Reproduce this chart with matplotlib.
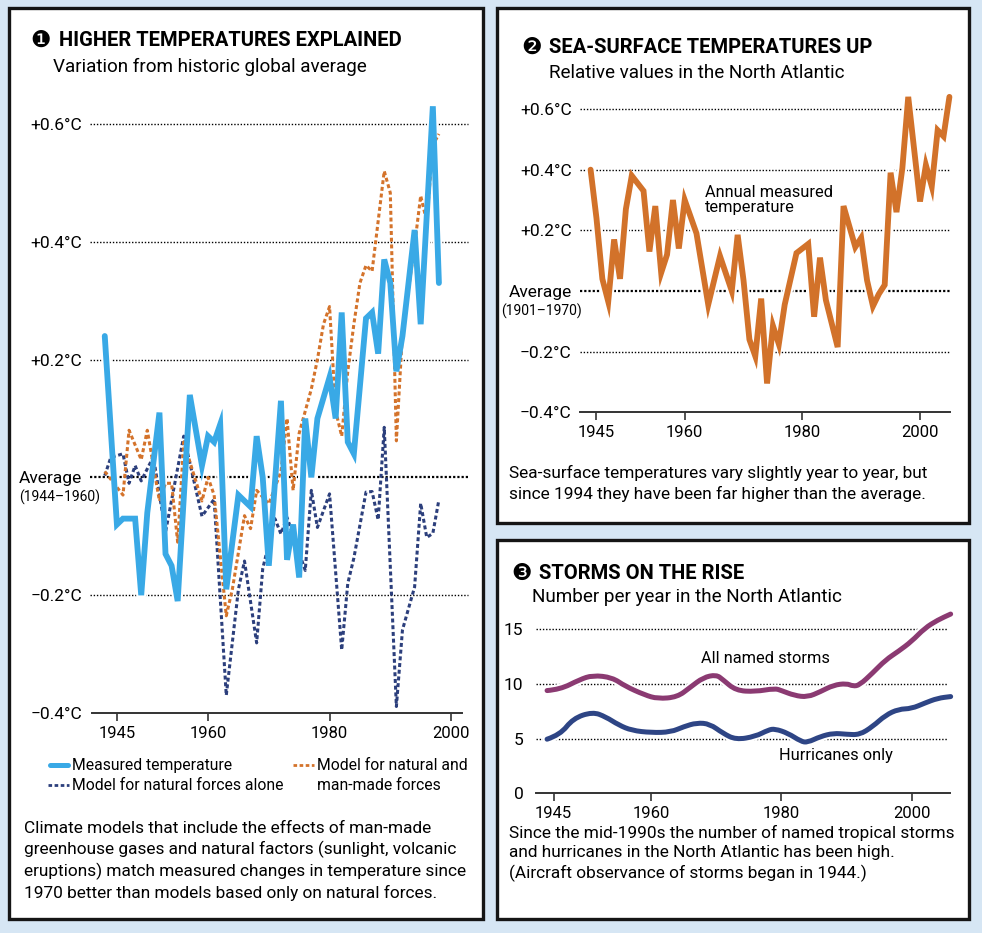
import matplotlib
matplotlib.use("Agg")
import matplotlib.pyplot as plt
from matplotlib.patches import Rectangle, PathPatch
from matplotlib.lines import Line2D
from matplotlib.path import Path

FONT = ['Roboto', 'DejaVu Sans']
plt.rcParams['font.family'] = FONT

# ---- panel 1: global temperature vs models ----
meas_years = [1943, 1945, 1946, 1948, 1949, 1950, 1952, 1953, 1954, 1955, 1957,
              1959, 1960, 1961, 1962, 1963, 1965, 1967, 1968, 1969, 1970, 1972,
              1973, 1974, 1975, 1976, 1977, 1978, 1980, 1981, 1982, 1983, 1984,
              1986, 1987, 1988, 1989, 1990, 1991, 1992, 1994, 1995, 1997, 1998]
meas_temp = [0.24, -0.08, -0.07, -0.07, -0.20, -0.06, 0.11, -0.13, -0.15, -0.21, 0.14,
             0.02, 0.07, 0.06, 0.09, -0.19, -0.03, -0.05, 0.07, 0.00, -0.15, 0.13,
             -0.14, -0.08, -0.17, 0.10, 0.00, 0.10, 0.17, 0.10, 0.28, 0.06, 0.04,
             0.27, 0.28, 0.21, 0.37, 0.33, 0.18, 0.24, 0.42, 0.26, 0.63, 0.33]

both_years = [1943, 1946, 1947, 1949, 1950, 1952, 1953, 1954, 1955, 1956, 1959,
              1960, 1961, 1963, 1964, 1966, 1967, 1968, 1970, 1972, 1973, 1974,
              1975, 1977, 1978, 1979, 1980, 1981, 1982, 1983, 1984, 1985, 1986,
              1987, 1989, 1990, 1991, 1992, 1994, 1995, 1996, 1997, 1998]
both_temp = [0.01, -0.03, 0.08, 0.03, 0.08, -0.04, -0.01, -0.01, -0.11, 0.06, -0.04,
             0.00, -0.03, -0.235, -0.19, -0.065, -0.087, -0.022, -0.045, 0.01, 0.10, -0.022,
             0.075, 0.15, 0.20, 0.26, 0.29, 0.113, 0.07, 0.18, 0.26, 0.33, 0.36,
             0.35, 0.52, 0.483, 0.062, 0.245, 0.394, 0.478, 0.434, 0.564, 0.583]

nat_years = [1943, 1944, 1946, 1947, 1948, 1949, 1951, 1953, 1956, 1959, 1961,
             1963, 1965, 1966, 1968, 1969, 1971, 1972, 1973, 1976, 1977, 1978,
             1980, 1982, 1983, 1984, 1986, 1987, 1988, 1989, 1991, 1992, 1994,
             1995, 1996, 1997, 1998]
nat_temp = [0.003, 0.034, 0.04, -0.01, 0.02, -0.006, 0.035, -0.093, 0.07, -0.066, -0.037,
            -0.37, -0.19, -0.142, -0.281, -0.155, -0.07, -0.096, -0.068, -0.158, -0.022, -0.085,
            -0.028, -0.293, -0.18, -0.137, -0.025, -0.024, -0.072, 0.085, -0.389, -0.259, -0.186,
            -0.044, -0.102, -0.095, -0.038]

# ---- panel 2: North Atlantic sea-surface temperature ----
sst_years = [1944, 1945, 1946, 1947, 1948, 1949, 1950, 1951, 1953, 1954, 1955,
             1956, 1957, 1958, 1959, 1960, 1961, 1962, 1964, 1966, 1968, 1969,
             1970, 1971, 1972, 1973, 1974, 1975, 1976, 1977, 1979, 1981, 1982,
             1983, 1984, 1986, 1987, 1989, 1990, 1991, 1992, 1993, 1994, 1995,
             1996, 1997, 1998, 2000, 2001, 2002, 2003, 2004, 2005]
sst_temp = [0.40, 0.24, 0.04, -0.035, 0.17, 0.04, 0.27, 0.38, 0.33, 0.13, 0.28,
            0.06, 0.12, 0.30, 0.14, 0.30, 0.245, 0.19, -0.045, 0.115, 0.0, 0.185,
            0.035, -0.16, -0.215, -0.025, -0.305, -0.115, -0.175, -0.045, 0.125, 0.155, -0.085,
            0.11, -0.03, -0.185, 0.28, 0.145, 0.175, 0.035, -0.05, -0.01, 0.02, 0.39,
            0.26, 0.405, 0.64, 0.295, 0.415, 0.345, 0.53, 0.51, 0.64]

# ---- panel 3: storms per year ----
storm_years = [1944, 1946, 1949, 1951, 1954, 1956, 1959, 1961, 1964, 1966, 1968,
               1970, 1971, 1973, 1976, 1979, 1980, 1982, 1984, 1986, 1988, 1990,
               1991, 1992, 1994, 1996, 1998, 2000, 2002, 2004, 2006]
storms = [9.4, 9.5, 10.4, 10.8, 10.6, 9.8, 9.0, 8.65, 8.8, 9.7, 10.6,
          10.85, 10.4, 9.4, 9.3, 9.6, 9.4, 8.95, 8.8, 9.3, 9.9, 10.05,
          9.8, 9.9, 11.0, 12.2, 13.0, 13.9, 15.1, 15.85, 16.4]
hurr_years = [1944, 1946, 1948, 1951, 1953, 1955, 1957, 1960, 1963, 1965, 1967,
              1969, 1971, 1973, 1976, 1978, 1979, 1981, 1983, 1984, 1986, 1988,
              1990, 1992, 1994, 1996, 1998, 2000, 2002, 2004, 2006]
hurricanes = [4.95, 5.35, 6.85, 7.45, 7.0, 6.25, 5.75, 5.55, 5.6, 6.1, 6.45,
              6.35, 5.5, 4.9, 5.2, 5.8, 5.9, 5.5, 4.75, 4.65, 5.2, 5.5,
              5.4, 5.35, 6.1, 7.15, 7.7, 7.75, 8.25, 8.7, 8.85]

BG = '#d6e6f4'
C_MEAS = '#39a9e6'
C_BOTH = '#d4732b'
C_NAT = '#2c3f7c'
C_SST = '#d2722a'
C_STORM = '#8b3a72'
C_HURR = '#2e4585'

W, H = 982, 933
fig = plt.figure(figsize=(W / 100, H / 100), dpi=100)
fig.patch.set_facecolor(BG)


def rect(l, t, r, b):
    return [l / W, 1 - b / H, (r - l) / W, (b - t) / H]


def ftext(x, y, s, **kw):
    kw.setdefault('va', 'baseline')
    return fig.text(x / W, 1 - y / H, s, **kw)


def panel(l, t, r, b):
    fig.add_artist(Rectangle((l / W, 1 - b / H), (r - l) / W, (b - t) / H,
                             transform=fig.transFigure, facecolor='white',
                             edgecolor='#151515', lw=2.4, zorder=0))


def title(xn, xt, y, num, s):
    ftext(xn, y + 1, num, fontsize=16.5, family='DejaVu Sans')
    ftext(xt, y, s, fontsize=14.5, fontweight='bold')


def style_axes(ax, xt, yt, ylabels, ypad):
    for s in ['top', 'right', 'left']:
        ax.spines[s].set_visible(False)
    ax.spines['bottom'].set_linewidth(1.4)
    ax.spines['bottom'].set_color('#333333')
    ax.set_facecolor('none')
    ax.set_xticks(xt)
    ax.set_xticklabels([str(v) for v in xt], fontsize=12)
    ax.tick_params(axis='x', direction='out', length=6, width=1.2, color='#333333', pad=3)
    ax.set_yticks(yt)
    ax.set_yticklabels(ylabels, fontsize=12.5)
    ax.tick_params(axis='y', length=0, pad=ypad)


def grid(ax, yvals, x0=0.0, x1=1.0, zero=None):
    for y in yvals:
        ax.axhline(y, x0, x1, color='black', lw=1.0, ls=(0, (1, 1.3)), zorder=1, clip_on=False)
    if zero is not None:
        ax.axhline(zero, x0, x1, color='black', lw=1.6, ls=(0, (1, 0.9)), zorder=1, clip_on=False)


def avg_note(ax, xfrac, s):
    ax.annotate(s, xy=(xfrac, 0), xycoords=ax.get_yaxis_transform(),
                xytext=(0, -20), textcoords='offset pixels',
                ha='center', va='center', fontsize=10, annotation_clip=False)


def halo_under(ax, xs, ys, lw):
    # white band that masks the dotted gridlines where the line runs
    ax.plot(xs, ys, color='white', lw=lw + 3, zorder=2, solid_capstyle='round',
            clip_on=False)


def smooth(ax, xs, ys, color, lw):
    verts = [(xs[0], ys[0])]
    codes = [Path.MOVETO]
    for i in range(1, len(xs) - 1):
        verts += [(xs[i], ys[i]), ((xs[i] + xs[i + 1]) / 2, (ys[i] + ys[i + 1]) / 2)]
        codes += [Path.CURVE3, Path.CURVE3]
    verts.append((xs[-1], ys[-1]))
    codes.append(Path.LINETO)
    path = Path(verts, codes)
    ax.add_patch(PathPatch(path, fill=False, edgecolor='white', lw=lw + 3,
                           capstyle='round', joinstyle='round', zorder=2, clip_on=False))
    ax.add_patch(PathPatch(path, fill=False, edgecolor=color, lw=lw,
                           capstyle='round', joinstyle='round', zorder=5, clip_on=False))


panel(9, 8, 483, 919)
panel(497, 8, 969, 523)
panel(497, 540, 969, 919)

# ================= panel 1 =================
title(30, 59, 46, '\u2776', 'HIGHER TEMPERATURES EXPLAINED')
ftext(53, 72, 'Variation from historic global average', fontsize=13.6)

ax1 = fig.add_axes(rect(92, 94.5, 462, 713))
ax1.set_xlim(1940.9, 2001.8)
ax1.set_ylim(-0.4, 0.65)
style_axes(ax1, [1945, 1960, 1980, 2000], [-0.4, -0.2, 0, 0.2, 0.4, 0.6],
           ['\u22120.4\u00b0C', '\u22120.2\u00b0C', 'Average', '+0.2\u00b0C', '+0.4\u00b0C', '+0.6\u00b0C'], 7)
grid(ax1, [-0.2, 0.2, 0.4, 0.6], -0.005, 1.016, zero=0)
avg_note(ax1, -0.088, '(1944\u20131960)')

halo_under(ax1, meas_years, meas_temp, 4.2)
ax1.plot(nat_years, nat_temp, color=C_NAT, lw=2.2, dashes=(1.3, 0.9), zorder=3)
ax1.plot(both_years, both_temp, color=C_BOTH, lw=2.2, dashes=(1.3, 0.9), zorder=4)
ax1.plot(meas_years, meas_temp, color=C_MEAS, lw=4.2, solid_joinstyle='miter',
         solid_capstyle='round', zorder=5, clip_on=False)

# legend
fig.add_artist(Line2D([50 / W, 68 / W], [1 - 765 / H] * 2, color=C_MEAS, lw=3.6,
                      solid_capstyle='round'))
fig.add_artist(Line2D([48 / W, 69 / W], [1 - 785 / H] * 2, color=C_NAT, lw=2, dashes=(1.3, 0.9)))
fig.add_artist(Line2D([293 / W, 314 / W], [1 - 765 / H] * 2, color=C_BOTH, lw=2, dashes=(1.3, 0.9)))
ftext(72, 770, 'Measured temperature', fontsize=11.3)
ftext(72, 790, 'Model for natural forces alone', fontsize=11.3)
ftext(317, 770, 'Model for natural and', fontsize=11.3)
ftext(317, 790, 'man-made forces', fontsize=11.3)

ftext(24, 821, 'Climate models that include the effects of man-made\n'
      'greenhouse gases and natural factors (sunlight, volcanic\n'
      'eruptions) match measured changes in temperature since\n'
      '1970 better than models based only on natural forces.',
      fontsize=12.4, va='top', linespacing=1.36)

# ================= panel 2 =================
title(521, 549, 53, '\u2777', 'SEA-SURFACE TEMPERATURES UP')
ftext(549, 78, 'Relative values in the North Atlantic', fontsize=13.6)

ax2 = fig.add_axes(rect(580, 90.8, 950, 412.3))
ax2.set_xlim(1942.2, 2005.1)
ax2.set_ylim(-0.4, 0.66)
style_axes(ax2, [1945, 1960, 1980, 2000], [-0.4, -0.2, 0, 0.2, 0.4, 0.6],
           ['\u22120.4\u00b0C', '\u22120.2\u00b0C', 'Average', '+0.2\u00b0C', '+0.4\u00b0C', '+0.6\u00b0C'], 6)
grid(ax2, [-0.2, 0.2, 0.4, 0.6], zero=0)
avg_note(ax2, -0.105, '(1901\u20131970)')
halo_under(ax2, sst_years, sst_temp, 4.2)
ax2.plot(sst_years, sst_temp, color=C_SST, lw=4.2, solid_joinstyle='miter',
         solid_capstyle='round', zorder=5, clip_on=False)
ax2.text(1963.4, 0.35, 'Annual measured\ntemperature', fontsize=11.8, va='top',
         linespacing=1.05)

ftext(509, 465, 'Sea-surface temperatures vary slightly year to year, but\n'
      'since 1994 they have been far higher than the average.',
      fontsize=12.4, va='top', linespacing=1.36)

# ================= panel 3 =================
title(511, 539, 579, '\u2778', 'STORMS ON THE RISE')
ftext(532, 602, 'Number per year in the North Atlantic', fontsize=13.6)

ax3 = fig.add_axes(rect(536, 607.5, 950, 793.3))
ax3.set_xlim(1942.3, 2005.9)
ax3.set_ylim(0, 17)
style_axes(ax3, [1945, 1960, 1980, 2000], [0, 5, 10, 15], ['0', '5', '10', '15'], 9)
grid(ax3, [5, 10, 15], 0, 0.995)
smooth(ax3, storm_years, storms, C_STORM, 3.6)
smooth(ax3, hurr_years, hurricanes, C_HURR, 3.6)
ax3.text(1967.6, 11.9, 'All named storms', fontsize=11.8, va='baseline')
ax3.text(1979.6, 3.05, 'Hurricanes only', fontsize=11.8, va='baseline')

ftext(509, 825, 'Since the mid-1990s the number of named tropical storms\n'
      'and hurricanes in the North Atlantic has been high.\n'
      '(Aircraft observance of storms began in 1944.)',
      fontsize=12.4, va='top', linespacing=1.36)

fig.savefig('out.png', dpi=100, facecolor=BG)
